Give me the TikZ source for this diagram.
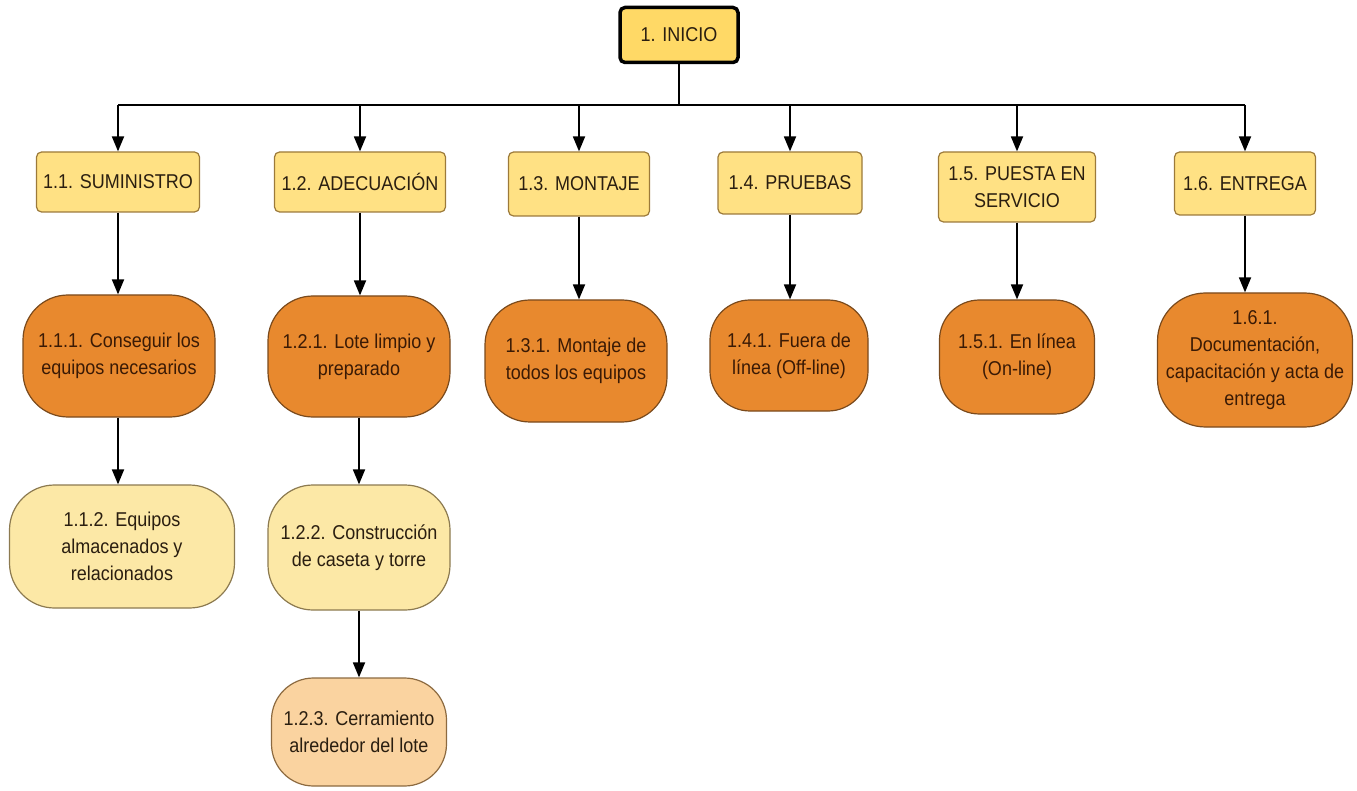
\documentclass[tikz,border=0pt]{standalone}
\usepackage{fontspec}
\setmainfont{Liberation Sans}[FakeStretch=0.9]
\usetikzlibrary{arrows.meta}
\definecolor{inifill}{HTML}{FFD966}
\definecolor{lvfill}{HTML}{FFE184}
\definecolor{lvdraw}{HTML}{9C7A3A}
\definecolor{orfill}{HTML}{E8892E}
\definecolor{ordraw}{HTML}{7A4A1C}
\definecolor{pyfill}{HTML}{FCE8A6}
\definecolor{pydraw}{HTML}{8C7A50}
\definecolor{pcfill}{HTML}{FAD3A0}
\definecolor{pcdraw}{HTML}{8C6A40}
\definecolor{txt}{HTML}{2A1E10}
\definecolor{ortxt}{HTML}{3A1A05}
\tikzset{
  every node/.style={font=\fontsize{20}{27}\selectfont, text=txt, align=center, inner sep=2pt},
  inibox/.style={draw=black, line width=3.5pt, fill=inifill, rounded corners=5pt, minimum width=118pt, minimum height=55pt},
  lvbox/.style={draw=lvdraw, line width=1.2pt, fill=lvfill, rounded corners=5pt},
  orbox/.style={draw=ordraw, line width=1.2pt, fill=orfill, rounded corners=45pt, text=ortxt},
  pybox/.style={draw=pydraw, line width=1.2pt, fill=pyfill, rounded corners=45pt},
  pcbox/.style={draw=pcdraw, line width=1.2pt, fill=pcfill, rounded corners=42pt},
  conn/.style={line width=1.8pt, draw=black},
  arr/.style={conn, -{Triangle[length=15pt,width=12pt]}}
}
\begin{document}
\begin{tikzpicture}[x=1pt,y=-1pt]
\useasboundingbox (0,0) rectangle (1357,791);
% root
\node[inibox] (ini) at (679,35) {1. INICIO};
% level 1
\node[lvbox, minimum width=163pt, minimum height=60pt] (c11) at (118,182) {1.1. SUMINISTRO};
\node[lvbox, minimum width=171pt, minimum height=60pt] (c12) at (360,182) {1.2. ADECUACIÓN};
\node[lvbox, minimum width=141pt, minimum height=64pt] (c13) at (579,184) {1.3. MONTAJE};
\node[lvbox, minimum width=144pt, minimum height=62pt] (c14) at (790,183) {1.4. PRUEBAS};
\node[lvbox, minimum width=157pt, minimum height=70pt] (c15) at (1017,187) {1.5. PUESTA EN\\SERVICIO};
\node[lvbox, minimum width=141pt, minimum height=63pt] (c16) at (1245,183.5) {1.6. ENTREGA};
% level 2
\node[orbox, minimum width=192pt, minimum height=122pt] (c111) at (119,356) {1.1.1. Conseguir los\\equipos necesarios};
\node[orbox, minimum width=182pt, minimum height=121pt] (c121) at (359,356.5) {1.2.1. Lote limpio y\\preparado};
\node[orbox, minimum width=182pt, minimum height=122pt] (c131) at (576,361) {1.3.1. Montaje de\\todos los equipos};
\node[orbox, minimum width=158pt, minimum height=111pt, rounded corners=40pt] (c141) at (789,355.5) {1.4.1. Fuera de\\línea (Off-line)};
\node[orbox, minimum width=155pt, minimum height=114pt, rounded corners=40pt] (c151) at (1017,357) {1.5.1. En línea\\(On-line)};
\node[orbox, minimum width=195pt, minimum height=134pt, rounded corners=48pt] (c161) at (1255,360) {1.6.1.\\Documentación,\\capacitación y acta de\\entrega};
% level 3
\node[pybox, minimum width=225pt, minimum height=123pt] (c112) at (122,546.5) {1.1.2. Equipos\\almacenados y\\relacionados};
\node[pybox, minimum width=182pt, minimum height=125pt] (c122) at (359,547.5) {1.2.2. Construcción\\de caseta y torre};
\node[pcbox, minimum width=175pt, minimum height=108pt] (c123) at (359,732) {1.2.3. Cerramiento\\alrededor del lote};
% connectors
\coordinate (bus) at (679,105);
\draw[conn] (ini.south) -- (bus);
\draw[conn] (bus -| c11) -- (bus -| c16);
\foreach \n in {c11,c12,c13,c14,c15,c16}{
  \draw[arr] (bus -| \n) -- (\n.north);
}
\draw[arr] (c11.south) -- (c11.south |- c111.north);
\draw[arr] (c12.south) -- (c12.south |- c121.north);
\draw[arr] (c13.south) -- (c13.south |- c131.north);
\draw[arr] (c14.south) -- (c14.south |- c141.north);
\draw[arr] (c15.south) -- (c15.south |- c151.north);
\draw[arr] (c16.south) -- (c16.south |- c161.north);
\draw[arr] (c111.south -| c11) -- (c11 |- c112.north);
\draw[arr] (c121.south) -- (c122.north);
\draw[arr] (c122.south) -- (c123.north);
\end{tikzpicture}
\end{document}
